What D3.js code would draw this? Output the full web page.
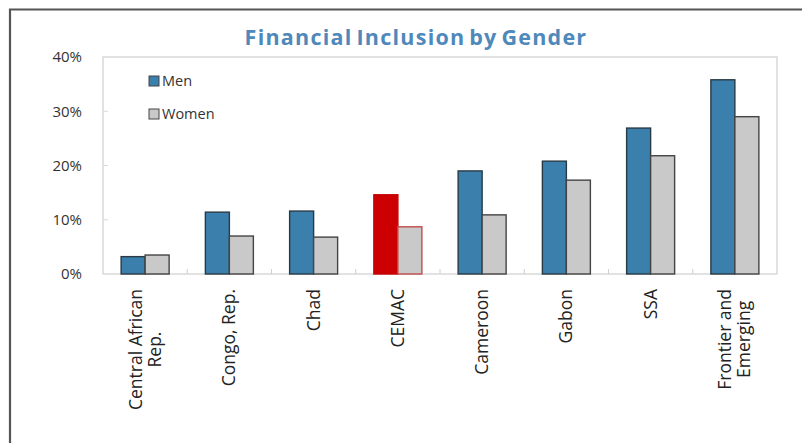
<!DOCTYPE html>
<html>
<head>
<meta charset="utf-8">
<script src="https://cdn.jsdelivr.net/npm/d3@7"></script>
<style>
  html, body { margin: 0; padding: 0; background: #fff; }
  svg { display: block; }
</style>
</head>
<body>
<svg id="chart" width="802" height="443"></svg>
<script>
// Account ownership by gender, share of adults
const categories = [
  ["Central African", "Rep."],
  ["Congo, Rep."],
  ["Chad"],
  ["CEMAC"],
  ["Cameroon"],
  ["Gabon"],
  ["SSA"],
  ["Frontier and", "Emerging"]
];
const men   = [3.2, 11.4, 11.6, 14.6, 19.0, 20.8, 26.9, 35.8];
const women = [3.5, 7.0, 6.8, 8.7, 10.9, 17.3, 21.8, 29.0];
const yTicks = [0, 10, 20, 30, 40];
const seriesNames = ["Men", "Women"];
const highlight = "CEMAC";

const svg = d3.select("#chart");
const font = "'Open Sans', 'Noto Sans', sans-serif";

// outer frame (top and left edges)
svg.append("path")
  .attr("d", "M10,443 V9.5 H802")
  .attr("fill", "none")
  .attr("stroke", "#555")
  .attr("stroke-width", 2.2);

const plot = { left: 103, right: 777, top: 57, bottom: 274 };

const x = d3.scaleBand()
  .domain(categories.map(d => d.join(" ")))
  .range([plot.left, plot.right])
  .paddingInner(0)
  .paddingOuter(0);

const y = d3.scaleLinear().domain([0, 40]).range([plot.bottom, plot.top]);

// plot box
svg.append("rect")
  .attr("x", plot.left).attr("y", plot.top)
  .attr("width", plot.right - plot.left).attr("height", plot.bottom - plot.top)
  .attr("fill", "none").attr("stroke", "#cfcfcf").attr("stroke-width", 1.2);

// title
svg.append("text")
  .attr("x", 416).attr("y", 45)
  .attr("text-anchor", "middle")
  .attr("font-family", font)
  .attr("font-weight", "bold")
  .attr("font-size", 21.5)
  .attr("letter-spacing", 1.25)
  .attr("word-spacing", -3)
  .attr("fill", "#4f88ba")
  .text("Financial Inclusion by Gender");

// y axis
const yAxis = d3.axisLeft(y)
  .tickValues(yTicks)
  .tickFormat(d => d + "%")
  .tickSize(0)
  .tickPadding(21);
const ya = svg.append("g").attr("transform", `translate(${plot.left},0)`).call(yAxis);
ya.select(".domain").remove();
ya.selectAll("text")
  .attr("font-family", font)
  .attr("font-size", 15)
  .attr("fill", "#333");

// small inner ticks on the value axis
svg.append("g").selectAll("line")
  .data(yTicks.slice(1, -1))
  .join("line")
  .attr("x1", plot.left).attr("x2", plot.left + 5)
  .attr("y1", d => y(d)).attr("y2", d => y(d))
  .attr("stroke", "#d8d8d8");

// category separator ticks along the base
svg.append("g").selectAll("line")
  .data(categories.slice(1))
  .join("line")
  .attr("x1", d => x(d.join(" "))).attr("x2", d => x(d.join(" ")))
  .attr("y1", plot.bottom).attr("y2", plot.bottom - 5)
  .attr("stroke", "#d0d0d0");

// bars
const barW = 24;
const groups = svg.append("g").selectAll("g")
  .data(categories.map((c, i) => ({ name: c.join(" "), men: men[i], women: women[i] })))
  .join("g")
  .attr("transform", d => `translate(${x(d.name) + x.bandwidth() / 2},0)`);

groups.append("rect")
  .attr("x", -barW)
  .attr("y", d => y(d.men))
  .attr("width", barW)
  .attr("height", d => plot.bottom - y(d.men))
  .attr("fill", d => d.name === highlight ? "#cc0000" : "#3b80ad")
  .attr("stroke", d => d.name === highlight ? "#c40000" : "#2a3a44")
  .attr("stroke-width", 1.4);

groups.append("rect")
  .attr("x", 0)
  .attr("y", d => y(d.women))
  .attr("width", barW)
  .attr("height", d => plot.bottom - y(d.women))
  .attr("fill", "#c9c9c9")
  .attr("stroke", d => d.name === highlight ? "#c44b4b" : "#444")
  .attr("stroke-width", 1.4);

// category labels, rotated, lines centred on each other
const lab = svg.append("g").selectAll("text")
  .data(categories)
  .join("text")
  .attr("font-family", font)
  .attr("font-size", 17.5)
  .attr("fill", "#222")
  .attr("transform", d => {
    const cx = x(d.join(" ")) + x.bandwidth() / 2;
    return `translate(${cx},289) rotate(-90)`;
  });

lab.each(function (d) {
  const t = d3.select(this);
  const n = d.length;
  const lh = 19;
  // measure widest line so shorter lines sit centred against it
  const tmp = t.append("tspan").text(d[0]);
  const w0 = this.getComputedTextLength();
  tmp.remove();
  d.forEach((line, i) => {
    const off = (i - (n - 1) / 2) * lh + 6;
    t.append("tspan")
      .attr("x", i === 0 ? 0 : -w0 / 2)
      .attr("y", off)
      .attr("text-anchor", i === 0 ? "end" : "middle")
      .text(line);
  });
});

// legend
const legend = svg.append("g");
const legendColors = ["#3b80ad", "#c9c9c9"];
seriesNames.forEach((s, i) => {
  const ly = 76 + i * 33;
  legend.append("rect")
    .attr("x", 149).attr("y", ly)
    .attr("width", 10).attr("height", 10)
    .attr("fill", legendColors[i])
    .attr("stroke", "#444").attr("stroke-width", 1);
  legend.append("text")
    .attr("x", 162).attr("y", ly + 10)
    .attr("font-family", font)
    .attr("font-size", 14.5)
    .attr("fill", "#333")
    .text(s);
});
</script>
</body>
</html>
